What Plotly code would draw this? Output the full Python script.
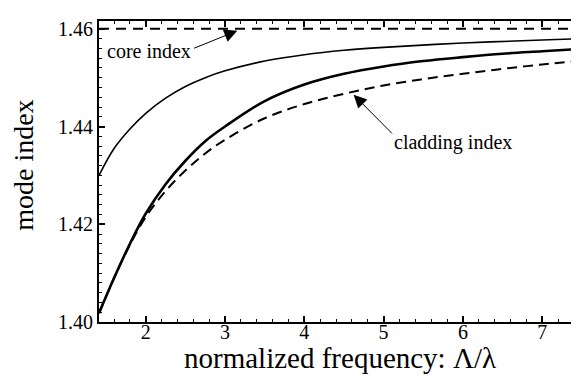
import plotly.graph_objects as go

# Data
freq_upper = [1.41, 1.6, 1.8, 2.0, 2.25, 2.5, 2.75, 3.0, 3.5, 4.0, 4.5, 5.0, 6.0, 7.0, 7.5]
n_upper = [1.4300, 1.4355, 1.4395, 1.4427, 1.4458, 1.4482, 1.4500, 1.4514, 1.4534,
           1.4547, 1.4556, 1.4562, 1.4571, 1.4577, 1.4580]

freq_mode = [1.41, 1.6, 1.8, 2.0, 2.25, 2.5, 2.75, 3.0, 3.5, 4.0, 4.5, 5.0, 5.5, 6.0, 6.5, 7.0, 7.5]
n_mode = [1.4018, 1.4090, 1.4160, 1.4222, 1.4282, 1.4330, 1.4370, 1.4400, 1.4452, 1.4486,
          1.4508, 1.4523, 1.4534, 1.4542, 1.4549, 1.4554, 1.4559]

freq_clad = [1.41, 1.6, 1.8, 2.0, 2.25, 2.5, 2.75, 3.0, 3.5, 4.0, 4.5, 5.0, 5.5, 6.0, 6.5, 7.0, 7.5]
n_clad = [1.4018, 1.4090, 1.4158, 1.4215, 1.4268, 1.4310, 1.4345, 1.4373, 1.4417, 1.4446,
          1.4467, 1.4484, 1.4497, 1.4508, 1.4518, 1.4527, 1.4535]

freq_core = [1.41, 7.5]
n_core = [1.46, 1.46]

x_ticks = [2, 3, 4, 5, 6, 7]
y_ticks = [1.40, 1.42, 1.44, 1.46]
y_ticklabels = ["1.40", "1.42", "1.44", "1.46"]

FONT = "Liberation Serif"

fig = go.Figure()
fig.add_trace(go.Scatter(x=freq_core, y=n_core, mode="lines",
                         line=dict(color="black", width=2, dash="10px,7px")))
fig.add_trace(go.Scatter(x=freq_upper, y=n_upper, mode="lines", line_shape="spline",
                         line=dict(color="black", width=1.6)))
fig.add_trace(go.Scatter(x=freq_clad, y=n_clad, mode="lines", line_shape="spline",
                         line=dict(color="black", width=2, dash="10px,6px")))
fig.add_trace(go.Scatter(x=freq_mode, y=n_mode, mode="lines", line_shape="spline",
                         line=dict(color="black", width=2.6)))

fig.update_layout(
    width=579, height=376,
    margin=dict(l=91, r=4, t=13, b=62),
    paper_bgcolor="white", plot_bgcolor="white",
    showlegend=False,
    font=dict(family=FONT, color="black"),
    xaxis=dict(range=[1.41, 7.49], tickvals=x_ticks, ticks="inside", ticklen=6,
               tickwidth=1.5, tickcolor="black", showline=True, linecolor="black",
               linewidth=2, mirror="allticks", showgrid=False, zeroline=False,
               tickfont=dict(size=20, family=FONT), ticklabelstandoff=-9,
               minor=dict(dtick=0.2, tick0=0, ticks="inside", ticklen=3,
                          tickcolor="black", tickwidth=1.2, showgrid=False)),
    yaxis=dict(range=[1.40, 1.4616], tickvals=y_ticks, ticktext=y_ticklabels,
               ticks="inside", ticklen=6, tickwidth=1.5, tickcolor="black",
               showline=True, linecolor="black", linewidth=2, mirror="allticks",
               showgrid=False, zeroline=False,
               tickfont=dict(size=20, family=FONT),
               minor=dict(dtick=0.002, tick0=1.40, ticks="inside", ticklen=3,
                          tickcolor="black", tickwidth=1.2, showgrid=False)),
)

# Axis titles
fig.add_annotation(text="normalized frequency: \u039b/\u03bb", xref="paper", yref="paper",
                   x=0.5, y=-(350 - 314) / (314 - 13),
                   showarrow=False, font=dict(size=29, family=FONT),
                   xanchor="center", yanchor="middle")
fig.add_annotation(text="mode index", xref="paper", yref="paper",
                   x=-(91 - 15) / (575 - 91), y=0.52, textangle=-90,
                   showarrow=False, font=dict(size=28, family=FONT),
                   xanchor="center", yanchor="middle")

# Labels
fig.add_annotation(text="core index", x=2.04, y=1.4555, xref="x", yref="y",
                   showarrow=False, font=dict(size=20, family=FONT))
fig.add_annotation(text="cladding index", x=5.877, y=1.4367, xref="x", yref="y",
                   showarrow=False, font=dict(size=20, family=FONT))

# Arrows
fig.add_annotation(text="", x=3.154, y=1.4596, xref="x", yref="y",
                   ax=2.59, ay=1.4559, axref="x", ayref="y",
                   showarrow=True, arrowhead=2, arrowsize=2.6, arrowwidth=1,
                   arrowcolor="black", standoff=0, startstandoff=0)
fig.add_annotation(text="", x=4.622, y=1.4465, xref="x", yref="y",
                   ax=5.124, ay=1.4383, axref="x", ayref="y",
                   showarrow=True, arrowhead=2, arrowsize=2.6, arrowwidth=1,
                   arrowcolor="black", standoff=0, startstandoff=0)

fig.write_html("out.html")
